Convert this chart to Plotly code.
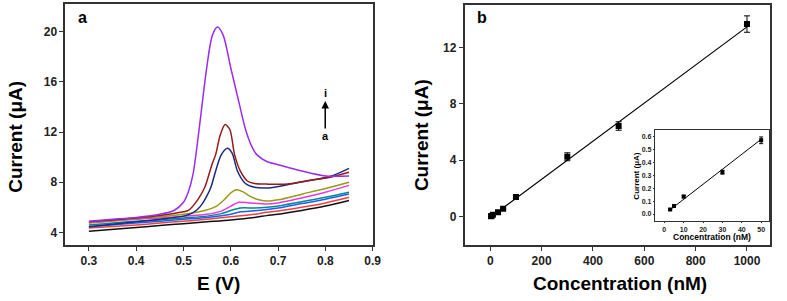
import plotly.graph_objects as go

W, H = 787, 301

# ---------------- Panel a: DPV curves ----------------
E_a = [0.30, 0.40, 0.45, 0.50, 0.55, 0.60, 0.65, 0.676, 0.70, 0.75, 0.80, 0.85]
I_a = [4.10, 4.40, 4.55, 4.70, 4.85, 5.00, 5.20, 5.34, 5.45, 5.75, 6.10, 6.55]

E_b = [0.30, 0.40, 0.45, 0.50, 0.55, 0.60, 0.65, 0.676, 0.70, 0.75, 0.80, 0.85]
I_b = [4.35, 4.60, 4.75, 4.90, 5.05, 5.25, 5.45, 5.60, 5.70, 6.00, 6.35, 6.80]

E_c = [0.30, 0.40, 0.45, 0.50, 0.55, 0.60, 0.62, 0.65, 0.676, 0.70, 0.75, 0.80, 0.85]
I_c = [4.45, 4.75, 4.90, 5.05, 5.20, 5.45, 5.65, 5.72, 5.82, 5.95, 6.30, 6.65, 7.06]

E_d = [0.30, 0.40, 0.45, 0.50, 0.55, 0.58, 0.60, 0.62, 0.65, 0.676, 0.70, 0.75, 0.80, 0.85]
I_d = [4.60, 4.90, 5.00, 5.15, 5.30, 5.50, 5.75, 5.95, 5.95, 6.00, 6.10, 6.45, 6.80, 7.20]

E_e = [0.30, 0.40, 0.45, 0.50, 0.55, 0.58, 0.60, 0.617, 0.64, 0.676, 0.70, 0.75, 0.80, 0.85]
I_e = [4.75, 5.05, 5.15, 5.30, 5.45, 5.70, 6.10, 6.40, 6.35, 6.27, 6.35, 6.75, 7.20, 7.75]

E_f = [0.30, 0.40, 0.45, 0.50, 0.545, 0.57, 0.586, 0.60, 0.612, 0.625, 0.64, 0.655, 0.676, 0.70, 0.75, 0.80, 0.85]
I_f = [4.80, 5.10, 5.25, 5.45, 5.75, 6.10, 6.60, 7.15, 7.40, 7.25, 6.90, 6.65, 6.50, 6.60, 7.05, 7.50, 8.00]

E_g = [0.30, 0.40, 0.45, 0.50, 0.516, 0.53, 0.54, 0.55, 0.558, 0.568, 0.58, 0.593, 0.603, 0.614, 0.631, 0.65, 0.68, 0.72, 0.76, 0.81, 0.85]
I_g = [4.45, 4.85, 5.05, 5.30, 5.50, 5.85, 6.30, 6.95, 7.60, 8.90, 10.20, 10.70, 10.30, 8.90, 7.90, 7.60, 7.55, 7.80, 8.10, 8.45, 9.10]

E_h = [0.30, 0.40, 0.45, 0.50, 0.51, 0.53, 0.545, 0.56, 0.568, 0.578, 0.588, 0.598, 0.608, 0.62, 0.635, 0.65, 0.676, 0.72, 0.76, 0.81, 0.85]
I_h = [4.85, 5.15, 5.35, 5.65, 5.75, 6.60, 7.60, 9.40, 10.20, 11.80, 12.60, 12.20, 10.20, 8.90, 8.10, 7.90, 7.85, 7.85, 8.10, 8.40, 8.80]

E_i = [0.30, 0.35, 0.40, 0.45, 0.48, 0.50, 0.51, 0.52, 0.53, 0.54, 0.549, 0.561, 0.572, 0.584, 0.60, 0.617, 0.632, 0.645, 0.655, 0.676, 0.70, 0.75, 0.80, 0.85]
I_i = [4.90, 5.05, 5.20, 5.45, 5.75, 6.40, 7.20, 8.60, 11.30, 14.40, 17.10, 19.70, 20.36, 19.70, 17.10, 14.40, 12.10, 10.80, 10.20, 9.65, 9.40, 8.90, 8.50, 8.50]

curve_names = ["a", "b", "c", "d", "e", "f", "g", "h", "i"]
curve_E = [E_a, E_b, E_c, E_d, E_e, E_f, E_g, E_h, E_i]
curve_I = [I_a, I_b, I_c, I_d, I_e, I_f, I_g, I_h, I_i]
curve_colors = ["#111111", "#FF3B3B", "#1560FF", "#00898A", "#F032E6",
                "#9A9A10", "#1C2C80", "#951B1B", "#9A2BF2"]

# ---------------- Panel b: calibration ----------------
conc = [3, 5, 10, 30, 50, 100, 300, 500, 1000]
current = [0.035, 0.06, 0.135, 0.325, 0.57, 1.40, 4.25, 6.43, 13.65]
current_err = [0.01, 0.01, 0.015, 0.02, 0.03, 0.10, 0.28, 0.30, 0.58]
fit_x = [3, 1000]
fit_y = [0.0, 13.45]

# ---------------- Inset ----------------
in_conc = [3, 5, 10, 30, 50]
in_current = [0.035, 0.062, 0.135, 0.325, 0.572]
in_err = [0.006, 0.006, 0.01, 0.015, 0.026]
in_fit_x = [3, 50]
in_fit_y = [0.033, 0.58]
in_yticks = [0.0, 0.1, 0.2, 0.3, 0.4, 0.5, 0.6]

FONT = "Liberation Sans, Arial, sans-serif"

fig = go.Figure()

for n, ex, iy, c in zip(curve_names, curve_E, curve_I, curve_colors):
    fig.add_trace(go.Scatter(x=ex, y=iy, mode="lines", name=n,
                             line=dict(color=c, width=1.5, shape="spline", smoothing=0.8),
                             xaxis="x", yaxis="y", showlegend=False))

fig.add_trace(go.Scatter(x=fit_x, y=fit_y, mode="lines", line=dict(color="black", width=1.2),
                         xaxis="x2", yaxis="y2", showlegend=False))
fig.add_trace(go.Scatter(x=conc, y=current, mode="markers",
                         marker=dict(symbol="square", size=6, color="black"),
                         error_y=dict(type="data", array=current_err, color="black", thickness=1, width=3),
                         xaxis="x2", yaxis="y2", showlegend=False))

fig.add_trace(go.Scatter(x=in_fit_x, y=in_fit_y, mode="lines", line=dict(color="black", width=1),
                         xaxis="x3", yaxis="y3", showlegend=False))
fig.add_trace(go.Scatter(x=in_conc, y=in_current, mode="markers",
                         marker=dict(symbol="square", size=4, color="black"),
                         error_y=dict(type="data", array=in_err, color="black", thickness=1, width=2),
                         xaxis="x3", yaxis="y3", showlegend=False))

def px(x):
    return x / W

def py(y):
    return 1 - y / H

axis_common = dict(showgrid=False, zeroline=False, showline=True, linecolor="#333333",
                   linewidth=1.5, mirror=True, ticks="outside", ticklen=4, tickwidth=1.2,
                   tickcolor="#333333",
                   tickfont=dict(family=FONT, size=12, color="#222222", weight="bold"))

inset_common = dict(showgrid=False, zeroline=False, showline=True, linecolor="#333333",
                    linewidth=1.2, mirror=True, ticks="outside", ticklen=1.5, tickwidth=1,
                    tickcolor="#333333",
                    tickfont=dict(family=FONT, size=7, color="#222222", weight="bold"))

fig.update_layout(
    width=W, height=H, margin=dict(l=0, r=0, t=0, b=0),
    paper_bgcolor="white", plot_bgcolor="white",
    xaxis=dict(domain=[px(66), px(377)], range=[0.25, 0.9], dtick=0.1, tick0=0.3,
               tickformat=".1f", anchor="y", **axis_common),
    yaxis=dict(domain=[py(245), py(4)], range=[3.0, 22.2], dtick=4, tick0=4, anchor="x",
               **axis_common),
    xaxis2=dict(domain=[px(470), px(779)], range=[-100, 1090], dtick=200, tick0=0, anchor="y2",
                **axis_common),
    yaxis2=dict(domain=[py(245), py(5)], range=[-2.0, 15.0], dtick=4, tick0=0, anchor="x2",
                **axis_common),
    xaxis3=dict(domain=[px(663), px(778)], range=[-4.6, 54.1], dtick=10, tick0=0, anchor="y3",
                **inset_common),
    yaxis3=dict(domain=[py(220.7), py(130)], range=[-0.052, 0.652], tickvals=in_yticks,
                tickformat=".1f", anchor="x3", **inset_common),
)

def ann(text, x, y, size, **kw):
    fig.add_annotation(text=text, x=px(x), y=py(y), xref="paper", yref="paper",
                       showarrow=False, font=dict(family=FONT, size=size, color="black", weight="bold"),
                       xanchor="center", yanchor="middle", **kw)

# axis titles
ann("E (V)", 221, 283, 19)
ann("Current (\u03bcA)", 15, 137, 19, textangle=-90)
ann("Concentration (nM)", 627, 283, 19)
ann("Current (\u03bcA)", 427, 135, 19, textangle=-90)
ann("Concentration (nM)", 720, 236.5, 8.5)
ann("Current (\u03bcA)", 643, 176, 8, textangle=-90)

# panel labels
ann("a", 83, 17, 16)
ann("b", 488, 17, 16)

# arrow annotation in panel a
ann("i", 329, 93, 11)
ann("a", 329, 136, 11)
fig.add_annotation(x=px(329), y=py(101), ax=0, ay=29, xref="paper", yref="paper",
                   axref="pixel", ayref="pixel", showarrow=True, arrowhead=2, arrowsize=1,
                   arrowwidth=1.5, arrowcolor="black", text="")

fig.write_html("out.html", config={"displayModeBar": False},
               post_script="document.body.style.margin='0';")
